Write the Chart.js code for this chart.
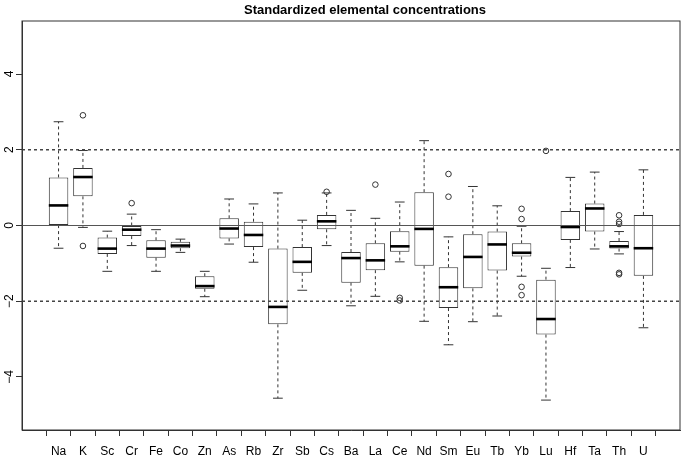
<!DOCTYPE html>
<html>
<head>
<meta charset="utf-8">
<script src="https://cdn.jsdelivr.net/npm/chart.js@4"></script>
<style>
  html, body { margin: 0; padding: 0; background: #fff; }
  #wrap { width: 685px; height: 458px; }
</style>
</head>
<body>
<div id="wrap"><canvas id="boxChart"></canvas></div>
<script>
// ===== DATA =====
const categories = ['Na', 'K', 'Sc', 'Cr', 'Fe', 'Co', 'Zn', 'As', 'Rb', 'Zr', 'Sb', 'Cs', 'Ba',
    'La', 'Ce', 'Nd', 'Sm', 'Eu', 'Tb', 'Yb', 'Lu', 'Hf', 'Ta', 'Th', 'U'];

const whiskerLow = [-0.60, -0.05, -1.21, -0.53, -1.21, -0.71, -1.88, -0.49, -0.97, -4.56, -1.71, -0.53, -2.12,
    -1.87, -0.96, -2.53, -3.15, -2.54, -2.39, -1.34, -4.61, -1.11, -0.62, -0.75, -2.70];
const q1 = [0.01, 0.77, -0.75, -0.28, -0.85, -0.60, -1.67, -0.34, -0.57, -2.61, -1.25, -0.10, -1.51,
    -1.18, -0.69, -1.06, -2.18, -1.66, -1.19, -0.82, -2.88, -0.38, -0.16, -0.61, -1.33];
const medians = [0.53, 1.28, -0.61, -0.11, -0.61, -0.53, -1.60, -0.08, -0.25, -2.15, -0.96, 0.11, -0.86,
    -0.92, -0.55, -0.09, -1.63, -0.83, -0.50, -0.72, -2.47, -0.04, 0.45, -0.55, -0.60];
const q3 = [1.27, 1.52, -0.32, 0.00, -0.39, -0.43, -1.34, 0.19, 0.10, -0.61, -0.57, 0.28, -0.70,
    -0.47, -0.15, 0.88, -1.10, -0.23, -0.16, -0.47, -1.43, 0.38, 0.58, -0.41, 0.28];
const whiskerHigh = [2.74, 1.98, -0.15, 0.30, -0.11, -0.36, -1.21, 0.70, 0.57, 0.86, 0.14, 0.86, 0.40,
    0.19, 0.62, 2.24, -0.30, 1.03, 0.52, -0.02, -1.13, 1.27, 1.41, -0.16, 1.47];
const outliers = [[], [2.91, -0.54], [], [0.59], [], [], [], [], [], [], [], [0.89], [],
    [1.08], [-1.91, -1.98], [], [1.36, 0.76], [], [], [0.44, 0.17, -1.62, -1.84], [1.97], [], [],
    [0.27, 0.10, 0.04, -1.25, -1.29], []];

const yTicks = [-4, -2, 0, 2, 4];
const refLines = [-2, 0, 2];
const chartTitle = 'Standardized elemental concentrations';

const FONT = '"Liberation Sans", Arial, Helvetica, sans-serif';
const INK = '#333';

// ===== BOX PARTS (whiskers, medians, ref lines, frame, labels) =====
const boxPartsPlugin = {
    id: 'boxParts',
    afterDatasetsDraw(chart) {
        const ctx = chart.ctx;
        const xs = chart.scales.x;
        const ys = chart.scales.y;
        const area = chart.chartArea;

        ctx.save();
        // whiskers
        categories.forEach((c, i) => {
            const pos = i + 1;
            const cx = xs.getPixelForValue(pos);
            const capL = xs.getPixelForValue(pos - 0.2);
            const capR = xs.getPixelForValue(pos + 0.2);
            ctx.strokeStyle = INK;
            ctx.lineWidth = 1;
            ctx.setLineDash([3, 3]);
            ctx.beginPath();
            ctx.moveTo(cx, ys.getPixelForValue(q3[i]));
            ctx.lineTo(cx, ys.getPixelForValue(whiskerHigh[i]));
            ctx.moveTo(cx, ys.getPixelForValue(q1[i]));
            ctx.lineTo(cx, ys.getPixelForValue(whiskerLow[i]));
            ctx.stroke();
            ctx.setLineDash([]);
            ctx.beginPath();
            const hy = ys.getPixelForValue(whiskerHigh[i]);
            const ly = ys.getPixelForValue(whiskerLow[i]);
            ctx.moveTo(capL, hy); ctx.lineTo(capR, hy);
            ctx.moveTo(capL, ly); ctx.lineTo(capR, ly);
            ctx.stroke();

            // median
            const my = ys.getPixelForValue(medians[i]);
            ctx.strokeStyle = '#000';
            ctx.lineWidth = 2.6;
            ctx.beginPath();
            ctx.moveTo(xs.getPixelForValue(pos - 0.4), my);
            ctx.lineTo(xs.getPixelForValue(pos + 0.4), my);
            ctx.stroke();
        });

        // reference lines
        refLines.forEach(v => {
            const py = ys.getPixelForValue(v);
            ctx.strokeStyle = v === 0 ? '#555' : '#444';
            ctx.lineWidth = v === 0 ? 1 : 1.3;
            ctx.setLineDash(v === 0 ? [] : [3, 3]);
            ctx.beginPath();
            ctx.moveTo(area.left, py);
            ctx.lineTo(area.right, py);
            ctx.stroke();
        });
        ctx.setLineDash([]);

        // frame
        ctx.strokeStyle = INK;
        ctx.lineWidth = 1;
        ctx.strokeRect(area.left, area.top, area.right - area.left, area.bottom - area.top);

        // rotated y labels
        ctx.fillStyle = '#000';
        ctx.font = '12px ' + FONT;
        ctx.textAlign = 'center';
        ctx.textBaseline = 'middle';
        yTicks.forEach(v => {
            ctx.save();
            ctx.translate(10, ys.getPixelForValue(v));
            ctx.rotate(-Math.PI / 2);
            ctx.fillText(v < 0 ? '\u2212' + Math.abs(v) : String(v), 0, 0);
            ctx.restore();
        });

        // title
        ctx.font = 'bold 13px ' + FONT;
        ctx.fillText(chartTitle, 365, 10);
        ctx.restore();
    }
};

// ===== CHART =====
const outlierPoints = [];
outliers.forEach((list, i) => {
    list.forEach(v => outlierPoints.push({ x: i + 1, y: v }));
});

new Chart(document.getElementById('boxChart'), {
    data: {
        datasets: [
            {
                type: 'bar',
                data: categories.map((c, i) => ({ x: i + 1, y: [q1[i], q3[i]] })),
                backgroundColor: '#fff',
                borderColor: INK,
                borderWidth: 1,
                borderSkipped: false,
                barPercentage: 0.8,
                categoryPercentage: 1
            },
            {
                type: 'scatter',
                data: outlierPoints,
                pointRadius: 2.8,
                pointStyle: 'circle',
                borderColor: INK,
                backgroundColor: 'rgba(0,0,0,0)',
                borderWidth: 1
            }
        ]
    },
    options: {
        responsive: true,
        maintainAspectRatio: false,
        animation: false,
        layout: { padding: { top: 21, right: 2, left: 0, bottom: 0 } },
        plugins: {
            legend: { display: false },
            tooltip: { enabled: false },
            title: { display: false }
        },
        scales: {
            x: {
                type: 'linear',
                min: -0.5,
                max: 26.5,
                offset: false,
                afterBuildTicks: scale => {
                    scale.ticks = categories.map((c, i) => ({ value: i + 1 }));
                },
                afterFit: scale => { scale.height = 28; },
                ticks: {
                    autoSkip: false,
                    maxRotation: 0,
                    padding: 8,
                    color: '#000',
                    font: { size: 12, family: FONT },
                    callback: value => categories[value - 1]
                },
                grid: { display: true, drawOnChartArea: false, drawTicks: true, tickLength: 6, color: INK },
                border: { display: true, color: INK }
            },
            y: {
                type: 'linear',
                min: -5.4,
                max: 5.4,
                afterBuildTicks: scale => {
                    scale.ticks = yTicks.map(v => ({ value: v }));
                },
                afterFit: scale => { scale.width = 22; },
                ticks: { display: false },
                grid: { display: true, drawOnChartArea: false, drawTicks: true, tickLength: 6, color: INK },
                border: { display: true, color: INK }
            }
        }
    },
    plugins: [boxPartsPlugin]
});
</script>
</body>
</html>
